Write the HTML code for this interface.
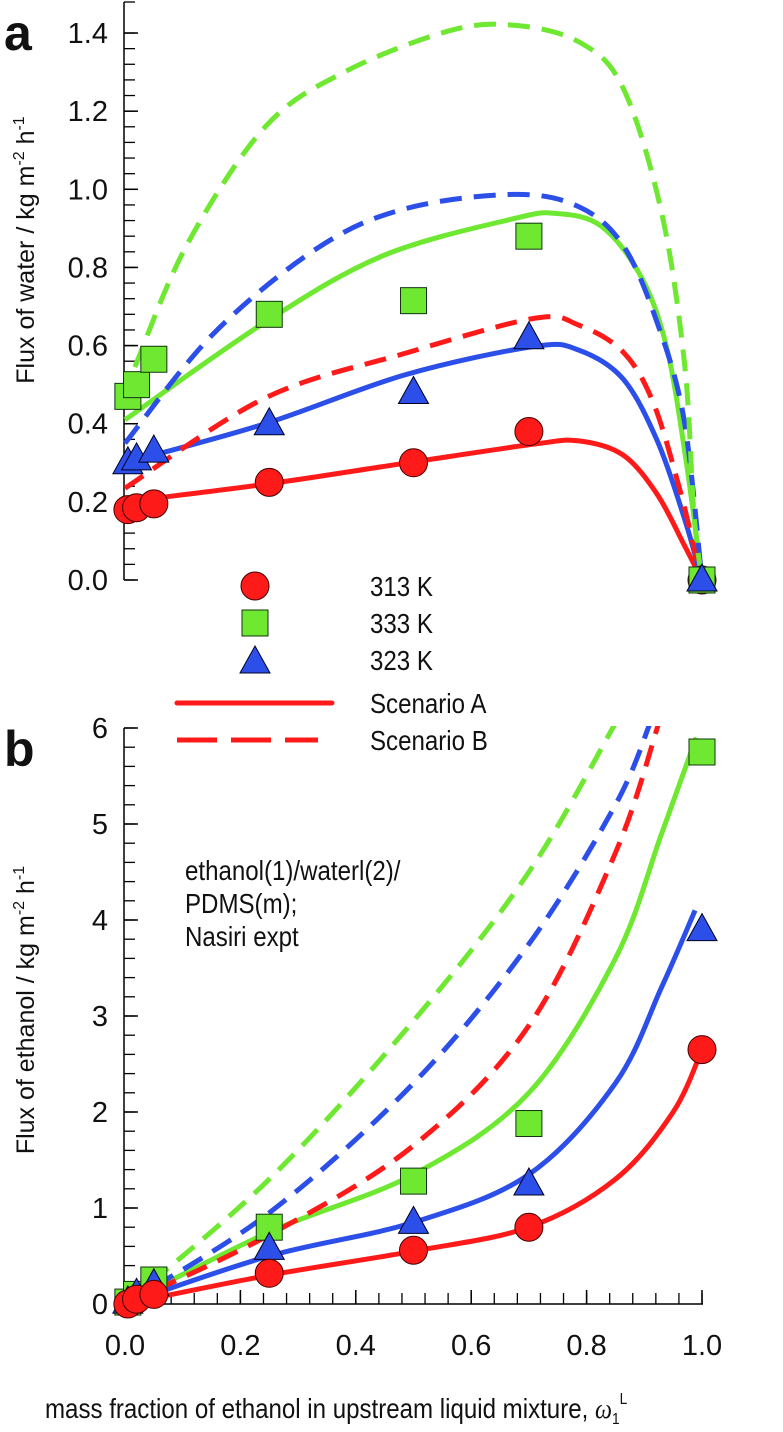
<!DOCTYPE html>
<html><head><meta charset="utf-8"><style>
html,body{margin:0;padding:0;background:#fff;}
svg text{font-family:"Liberation Sans",Arial,sans-serif;fill:#111;}
</style></head><body>
<svg id="c" width="783" height="1427" viewBox="0 0 783 1427" xmlns="http://www.w3.org/2000/svg">
<defs><clipPath id="clipB"><rect x="100" y="726" width="683" height="600"/></clipPath></defs>
<g id="ga"></g><g id="gb"></g><g id="leg"></g>
<text x="4" y="50" font-size="50" font-weight="bold">a</text>
<text x="4" y="766" font-size="50" font-weight="bold">b</text>
<text transform="translate(34,250) rotate(-90)" text-anchor="middle" font-size="25">Flux of water / kg m<tspan dy="-10" font-size="16">-2</tspan><tspan dy="10"> h</tspan><tspan dy="-10" font-size="16">-1</tspan></text>
<text transform="translate(34,1010) rotate(-90)" text-anchor="middle" font-size="25">Flux of ethanol / kg m<tspan dy="-10" font-size="16">-2</tspan><tspan dy="10"> h</tspan><tspan dy="-10" font-size="16">-1</tspan></text>
<g transform="translate(185,0) scale(0.86,1)">
<text x="0" y="880" font-size="28">ethanol(1)/waterl(2)/</text>
<text x="0" y="913" font-size="28">PDMS(m);</text>
<text x="0" y="946" font-size="28">Nasiri expt</text>
</g>
<text transform="translate(45,1418) scale(0.86,1)" font-size="28">mass fraction of ethanol in upstream liquid mixture, <tspan font-family="Liberation Serif" font-style="italic">ω</tspan><tspan font-size="16" dy="6">1</tspan><tspan font-size="16" dy="-20">L</tspan></text>
</svg>
<script>
const NS="http://www.w3.org/2000/svg";
const xTicks=[0,0.2,0.4,0.6,0.8,1.0];
const yTicksA=[0,0.2,0.4,0.6,0.8,1.0,1.2,1.4];
const yTicksB=[0,1,2,3,4,5,6];
const xs=[0.005,0.02,0.05,0.25,0.5,0.7,1.0];
const waterT313=[0.18,0.185,0.195,0.25,0.30,0.38,0.0];
const waterT333=[0.47,0.50,0.565,0.68,0.715,0.88,0.0];
const waterT323=[0.30,0.31,0.33,0.40,0.48,0.62,0.0];
const ethT313=[0.0,0.05,0.1,0.32,0.56,0.80,2.65];
const ethT333=[0.02,0.1,0.25,0.8,1.28,1.88,5.75];
const ethT323=[0.02,0.1,0.2,0.58,0.85,1.25,3.9];
const aRedAx=[0,0.243,0.49,0.71,0.787,0.863,0.922,0.969,1.0];
const aRedAy=[0.20,0.245,0.30,0.348,0.356,0.32,0.22,0.09,0.0];
const aBlueAx=[0,0.243,0.485,0.71,0.787,0.863,0.922,0.969,1.0];
const aBlueAy=[0.30,0.40,0.525,0.598,0.588,0.515,0.358,0.16,0.0];
const aGreenAx=[0,0.243,0.447,0.674,0.748,0.825,0.893,0.938,0.972,1.0];
const aGreenAy=[0.41,0.66,0.83,0.925,0.938,0.906,0.78,0.60,0.31,0.0];
const aRedBx=[0,0.243,0.485,0.71,0.787,0.863,0.915,0.96,0.99,1.0];
const aRedBy=[0.235,0.466,0.58,0.67,0.652,0.584,0.456,0.24,0.06,0.0];
const aBlueBx=[0,0.153,0.334,0.485,0.674,0.787,0.863,0.922,0.969,1.0];
const aBlueBy=[0.35,0.63,0.85,0.95,0.987,0.955,0.857,0.66,0.41,0.0];
const aGreenBx=[0.017,0.107,0.243,0.38,0.56,0.674,0.787,0.863,0.93,0.97,0.986,1.0];
const aGreenBy=[0.545,0.857,1.16,1.30,1.405,1.42,1.377,1.26,0.94,0.55,0.17,0.0];
const bRedAx=[0,0.25,0.5,0.7,0.85,0.95,1.0];
const bRedAy=[0,0.3,0.55,0.8,1.3,2.0,2.65];
const bBlueAx=[0,0.25,0.5,0.7,0.85,0.93,0.988];
const bBlueAy=[0,0.5,0.85,1.35,2.3,3.3,4.1];
const bGreenAx=[0,0.25,0.5,0.7,0.85,0.93,0.99];
const bGreenAy=[0,0.75,1.35,2.2,3.6,4.9,5.9];
const bGreenBx=[0,0.25,0.5,0.7,0.85];
const bGreenBy=[0,1.3,2.95,4.5,6.05];
const bBlueBx=[0,0.25,0.5,0.7,0.85,0.91];
const bBlueBy=[0,0.95,2.3,3.75,5.2,6.05];
const bRedBx=[0,0.25,0.5,0.7,0.85,0.925];
const bRedBy=[0,0.72,1.65,2.9,4.7,6.05];

const RED="#ff1a1a",GREEN="#6ee830",BLUE="#2b4fe8";
const X=v=>125+577*v;
const YA=v=>580-390.7*v;
const YB=v=>1304-96*v;
function el(t,a,p){const e=document.createElementNS(NS,t);for(const k in a)e.setAttribute(k,a[k]);p.appendChild(e);return e;}
function smooth(xa,ya,fy){const p=xa.map((x,i)=>[X(x),fy(ya[i])]);let d="M"+p[0][0]+","+p[0][1];
for(let i=0;i<p.length-1;i++){const p0=p[i-1]||p[i],p1=p[i],p2=p[i+1],p3=p[i+2]||p2;
d+=" C"+(p1[0]+(p2[0]-p0[0])/6)+","+(p1[1]+(p2[1]-p0[1])/6)+" "+(p2[0]-(p3[0]-p1[0])/6)+","+(p2[1]-(p3[1]-p1[1])/6)+" "+p2[0]+","+p2[1];}return d;}
function curve(g,xa,ya,fy,col,dash,name){const e=el("path",{d:smooth(xa,ya,fy),fill:"none",stroke:col,"stroke-width":5,"stroke-dasharray":dash?"22 12":"none"},g);

}
function marker(g,kind,cx,cy,name){let e;
if(kind==="c")e=el("circle",{cx:cx,cy:cy,r:14,fill:RED,stroke:"#400","stroke-width":1},g);
else if(kind==="s")e=el("rect",{x:cx-13,y:cy-13,width:26,height:26,fill:GREEN,stroke:"#131","stroke-width":1},g);
else e=el("path",{d:`M${cx},${cy-16} L${cx+15},${cy+11} L${cx-15},${cy+11} Z`,fill:BLUE,stroke:"#002","stroke-width":1},g);

}
function yaxis(g,top,bot,ticks,fy,minorStep,fmt,name){const ax=el("line",{x1:124,y1:top,x2:124,y2:bot,stroke:"#000","stroke-width":1.5},g);


const lo=ticks[0],hi=ticks[ticks.length-1];
for(let v=lo;v<=hi+1e-9;v+=minorStep){el("line",{x1:124,y1:fy(v),x2:135,y2:fy(v),stroke:"#000","stroke-width":1.3},g);}
ticks.forEach(t=>{el("line",{x1:124,y1:fy(t),x2:138,y2:fy(t),stroke:"#000","stroke-width":1.5},g);
const tx=el("text",{x:108,y:fy(t)+10,"text-anchor":"end","font-size":29},g);tx.textContent=fmt(t);

});}
// panel a
const ga=document.getElementById("ga");
yaxis(ga,2,580,yTicksA,YA,0.04,t=>t.toFixed(1),'y-axis-a');
el("line",{x1:124,y1:2,x2:135,y2:2,stroke:"#000","stroke-width":1.3},ga);
curve(ga,aRedAx,aRedAy,YA,RED,false,'curve-a-313-scenario-a');
curve(ga,aBlueAx,aBlueAy,YA,BLUE,false,'curve-a-323-scenario-a');
curve(ga,aGreenAx,aGreenAy,YA,GREEN,false,'curve-a-333-scenario-a');
curve(ga,aRedBx,aRedBy,YA,RED,true,'curve-a-313-scenario-b');
curve(ga,aBlueBx,aBlueBy,YA,BLUE,true,'curve-a-323-scenario-b');
curve(ga,aGreenBx,aGreenBy,YA,GREEN,true,'curve-a-333-scenario-b');
xs.forEach((x,i)=>marker(ga,"c",X(x),YA(waterT313[i]),'point-a-313'));
xs.forEach((x,i)=>marker(ga,"s",X(x),YA(waterT333[i]),'point-a-333'));
xs.forEach((x,i)=>marker(ga,"t",X(x),YA(waterT323[i]),'point-a-323'));
// panel b
const gb=document.getElementById("gb");
yaxis(gb,728,1304,yTicksB,YB,0.2,t=>String(t),'y-axis-b');
const xa=el("line",{x1:124,y1:1304,x2:703,y2:1304,stroke:"#000","stroke-width":1.5},gb);


for(let v=0;v<=1.0001;v+=0.04){el("line",{x1:X(v),y1:1304,x2:X(v),y2:1293,stroke:"#000","stroke-width":1.3},gb);}
xTicks.forEach(t=>{el("line",{x1:X(t),y1:1304,x2:X(t),y2:1290,stroke:"#000","stroke-width":1.5},gb);
const tx=el("text",{x:X(t),y:1355,"text-anchor":"middle","font-size":29},gb);tx.textContent=t.toFixed(1);

});
const cb=el("g",{"clip-path":"url(#clipB)"},gb);
curve(cb,bRedAx,bRedAy,YB,RED,false,'curve-b-313-scenario-a');
curve(cb,bBlueAx,bBlueAy,YB,BLUE,false,'curve-b-323-scenario-a');
curve(cb,bGreenAx,bGreenAy,YB,GREEN,false,'curve-b-333-scenario-a');
curve(cb,bGreenBx,bGreenBy,YB,GREEN,true,'curve-b-333-scenario-b');
curve(cb,bBlueBx,bBlueBy,YB,BLUE,true,'curve-b-323-scenario-b');
curve(cb,bRedBx,bRedBy,YB,RED,true,'curve-b-313-scenario-b');
xs.forEach((x,i)=>marker(gb,"s",X(x),YB(ethT333[i]),'point-b-333'));
xs.forEach((x,i)=>marker(gb,"t",X(x),YB(ethT323[i]),'point-b-323'));
xs.forEach((x,i)=>marker(gb,"c",X(x),YB(ethT313[i]),'point-b-313'));
// legend
const lg=document.getElementById("leg");
const legLabels=["313 K","333 K","323 K","Scenario A","Scenario B"];
const legY=[586,623,660,703,740];
marker(lg,"c",255,legY[0],'legend-marker-313');
marker(lg,"s",255,legY[1],'legend-marker-333');
marker(lg,"t",255,legY[2]+2,'legend-marker-323');
let l1=el("line",{x1:177,y1:legY[3],x2:332,y2:legY[3],stroke:RED,"stroke-width":5,"stroke-linecap":"round"},lg);


let l2=el("line",{x1:177,y1:legY[4],x2:318,y2:legY[4],stroke:RED,"stroke-width":5,"stroke-dasharray":"40 14"},lg);


legLabels.forEach((s,i)=>{const t=el("text",{x:0,y:0,"font-size":28,transform:`translate(370,${legY[i]+10}) scale(0.86,1)`},lg);t.textContent=s;

});
</script>
</body></html>
